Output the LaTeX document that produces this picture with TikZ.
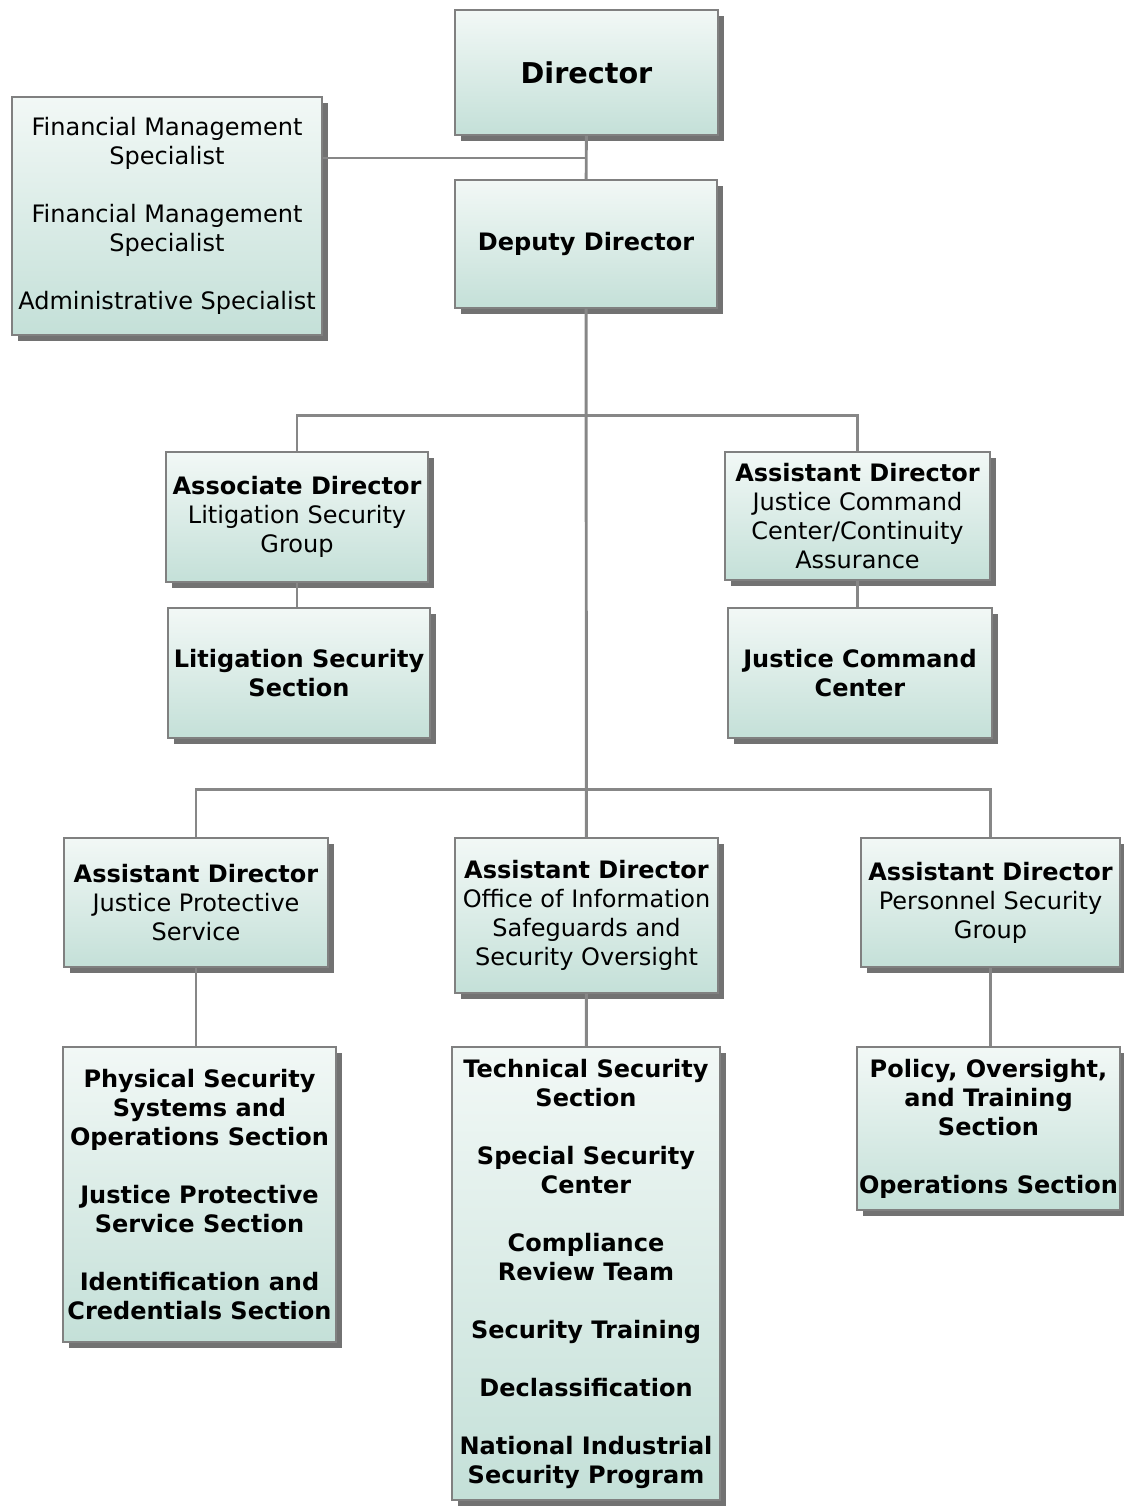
\documentclass[tikz,border=0pt]{standalone}
\usepackage{fontspec}
\setmainfont{DejaVu Sans}
\usetikzlibrary{shadows}
\newdimen\pxu \pxu=0.75pt
\definecolor{boxtop}{RGB}{242,248,246}
\definecolor{boxbot}{RGB}{196,224,216}
\definecolor{boxline}{RGB}{128,128,128}
\definecolor{linkgray}{RGB}{135,135,135}
\begin{document}
\begin{tikzpicture}[
    x=0.75pt, y=-0.75pt,
    orgbox/.style={draw=boxline, line width=1pt, top color=boxtop, bottom color=boxbot,
      drop shadow={shadow xshift=4.5pt, shadow yshift=-4.5pt, fill=black!65, opacity=0.85},
      align=center, inner sep=0pt, font=\fontsize{18}{21.75}\selectfont},
    link/.style={draw=linkgray, line width=2.2pt}
]
\useasboundingbox (0,0) rectangle (1123,1508);

% Top of the office
\node[orgbox, minimum width=263\pxu, minimum height=125\pxu, font=\fontsize{21.5}{26}\selectfont\bfseries]
  (dir) at (586.5,72.5) {Director};
\node[orgbox, minimum width=262\pxu, minimum height=128\pxu]
  (dep) at (586,244) {\textbf{Deputy Director}};
\node[orgbox, minimum width=310\pxu, minimum height=238\pxu]
  (fin) at (167,216) {Financial Management\\Specialist\\[21.75pt]Financial Management\\Specialist\\[21.75pt]Administrative Specialist};

% Upper groups
\node[orgbox, minimum width=262\pxu, minimum height=130\pxu]
  (assoc) at (297,517) {\textbf{Associate Director}\\Litigation Security\\Group};
\node[orgbox, minimum width=262\pxu, minimum height=130\pxu]
  (lss) at (299,673) {\textbf{Litigation Security}\\\textbf{Section}};
\node[orgbox, minimum width=265\pxu, minimum height=128\pxu]
  (jccad) at (857.5,516) {\textbf{Assistant Director}\\Justice Command\\Center/Continuity\\Assurance};
\node[orgbox, minimum width=264\pxu, minimum height=130\pxu]
  (jcc) at (860,673) {\textbf{Justice Command}\\\textbf{Center}};

% Lower groups
\node[orgbox, minimum width=264\pxu, minimum height=129\pxu]
  (jpsad) at (196,902.5) {\textbf{Assistant Director}\\Justice Protective\\Service};
\node[orgbox, minimum width=263\pxu, minimum height=155\pxu]
  (oisad) at (586.5,915.5) {\textbf{Assistant Director}\\Office of Information\\Safeguards and\\Security Oversight};
\node[orgbox, minimum width=259\pxu, minimum height=129\pxu]
  (psgad) at (990.5,902.5) {\textbf{Assistant Director}\\Personnel Security\\Group};

% Sections
\node[orgbox, minimum width=273\pxu, minimum height=295\pxu, font=\fontsize{18}{21.75}\selectfont\bfseries]
  (jpssec) at (199.5,1194.5) {Physical Security\\Systems and\\Operations Section\\[21.75pt]Justice Protective\\Service Section\\[21.75pt]Identification and\\Credentials Section};
\node[orgbox, minimum width=268\pxu, minimum height=453\pxu, font=\fontsize{18}{21.75}\selectfont\bfseries]
  (oissec) at (586,1273.5) {Technical Security\\Section\\[21.75pt]Special Security\\Center\\[21.75pt]Compliance\\Review Team\\[21.75pt]Security Training\\[21.75pt]Declassification\\[21.75pt]National Industrial\\Security Program};
\node[orgbox, minimum width=263\pxu, minimum height=163\pxu, font=\fontsize{18}{21.75}\selectfont\bfseries]
  (psgsec) at (988.5,1128.5) {Policy, Oversight,\\and Training\\Section\\[21.75pt]Operations Section};

% Connectors
\coordinate (staff) at (586,158);
\draw[link] (dir) -- (dep);
\draw[link] (staff) -- (fin.east |- staff);
\draw[link] (dep) -- (oisad);
\draw[link] (assoc.north) -- ++(0,-36) -| (jccad.north);
\draw[link] (jpsad.north) -- ++(0,-48) -| (psgad.north);
\draw[link] (assoc.south) -- (assoc.south |- lss.north);
\draw[link] (jccad.south) -- (jccad.south |- jcc.north);
\draw[link] (jpsad.south) -- (jpsad.south |- jpssec.north);
\draw[link] (oisad) -- (oissec);
\draw[link] (psgad.south) -- (psgad.south |- psgsec.north);

\end{tikzpicture}
\end{document}
